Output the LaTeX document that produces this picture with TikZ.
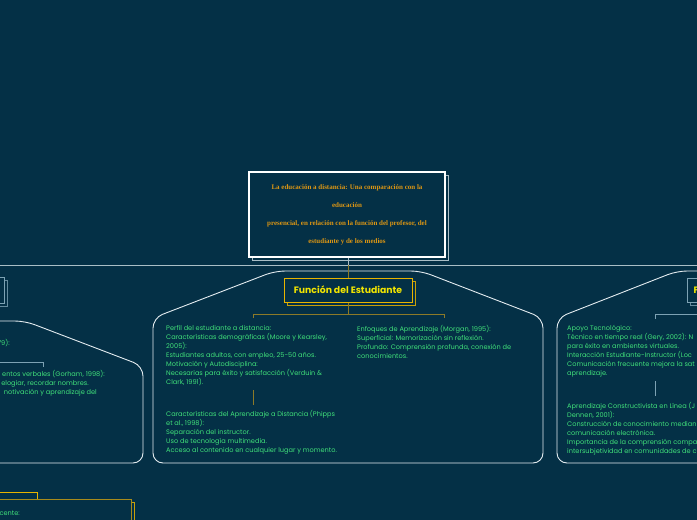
\documentclass[tikz,border=0pt]{standalone}
\usepackage{fontspec}
\newfontfamily\pop{Poppins}
\newfontfamily\tnr{Liberation Serif}
\definecolor{bg}{RGB}{4,48,70}
\definecolor{wline}{RGB}{228,236,240}
\definecolor{bline}{RGB}{125,162,180}
\definecolor{sline}{RGB}{170,190,198}
\definecolor{gold}{RGB}{232,180,0}
\definecolor{goldsh}{RGB}{200,160,10}
\definecolor{olive}{RGB}{140,122,40}
\definecolor{ytext}{RGB}{242,230,0}
\definecolor{gtext}{RGB}{64,224,122}
\definecolor{otext}{RGB}{220,150,20}
\tikzset{
  grp/.style={draw=wline, line width=0.9pt, rounded corners=10pt},
  body/.style={font=\pop\fontsize{6.6}{9}\selectfont, text=gtext, align=left, inner sep=0pt, anchor=north west},
  bodyr/.style={font=\pop\fontsize{6.6}{9}\selectfont, text=gtext, inner sep=0pt, anchor=base east},
  topic/.style={draw=gold, line width=1pt, fill=bg, minimum width=128pt, minimum height=24pt, inner sep=0pt, font=\pop\bfseries\fontsize{9.3}{10}\selectfont, text=ytext},
  topicb/.style={draw=bline, line width=1pt, fill=bg, minimum height=24pt, inner ysep=0pt, font=\pop\bfseries\fontsize{9.3}{10}\selectfont, text=ytext},
  goldshadow/.style={draw=goldsh, line width=1pt, fill=bg},
  blueshadow/.style={draw=bline!80!bg, line width=1pt, fill=bg},
  titlebox/.style={draw=white, line width=1.2pt, fill=bg, minimum width=196pt, minimum height=85pt, inner sep=0pt, align=center, text=otext, font=\tnr\bfseries\fontsize{7}{18}\selectfont},
  oconn/.style={draw=olive, line width=0.8pt},
  bconn/.style={draw=bline, line width=0.8pt},
  hconn/.style={draw=sline, line width=0.8pt}
}
\begin{document}
\begin{tikzpicture}[x=1pt,y=-1pt]
\useasboundingbox (0,0) rectangle (697,520);
\fill[bg] (0,0) rectangle (697,520);
\clip (0,0) rectangle (697,520);

% ---------- title ----------
\draw[draw=sline, line width=1pt, fill=bg] (252,175) rectangle (448,260);
\node[titlebox] (title) at (347,214.5) {La educación a distancia: Una comparación con la\\educación\\presencial, en relación con la función del profesor, del\\estudiante y de los medios};

\coordinate (j0) at (348,265);
\coordinate (eL) at (-5,265);
\coordinate (eR) at (705,265);
\draw[hconn] (title.south -| j0) -- (j0);
\draw[hconn] (eL) -- (eR);

% ---------- central group ----------
\draw[grp] (153,463) -- (153,318) -- (275,271) -- (421,271) -- (543,318) -- (543,463) -- cycle;
\draw[goldshadow] (287,281) rectangle (415,305);
\node[topic] (fe) at (348,290) {Función del Estudiante};
\draw[oconn] (j0) -- (fe.north -| j0);

\coordinate (j1) at (348,314);
\coordinate (cL) at (253,314);
\coordinate (cR) at (444,314);
\coordinate (cLd) at (253,318);
\coordinate (cRd) at (444,318);
\draw[oconn] (fe.south -| j1) -- (j1);
\draw[oconn] (cLd) -- (cL) -- (cR) -- (cRd);

\node[body] (p1) at (166,325) {Perfil del estudiante a distancia:\\Características demográficas (Moore y Kearsley,\\2005):\\Estudiantes adultos, con empleo, 25-50 años.\\Motivación y Autodisciplina:\\Necesarias para éxito y satisfacción (Verduin \&\\Clark, 1991).};
\node[body] (p2) at (166,410) {Características del Aprendizaje a Distancia (Phipps\\et al., 1998):\\Separación del instructor.\\Uso de tecnología multimedia.\\Acceso al contenido en cualquier lugar y momento.};
\coordinate (v1) at (253,390);
\coordinate (v2) at (253,405);
\draw[oconn] (v1) -- (v2);
\node[body] (p3) at (357,325) {Enfoques de Aprendizaje (Morgan, 1995):\\Superficial: Memorización sin reflexión.\\Profundo: Comprensión profunda, conexión de\\conocimientos.};

% ---------- right group ----------
\draw[grp] (720,271) -- (677,271) -- (557,318) -- (557,463) -- (720,463);
\draw[blueshadow] (690,281) rectangle (820,305);
\node[topicb, anchor=west, text width=116pt, inner xsep=6pt, align=left] (fm) at (687,290) {F};
\coordinate (rj) at (720,314);
\coordinate (rc) at (655,314);
\coordinate (rcd) at (655,319);
\draw[bconn] (rj) -- (rc) -- (rcd);
\node[body] (r1) at (567,325) {Apoyo Tecnológico:\\Técnico en tiempo real (Gery, 2002): N\\para éxito en ambientes virtuales.\\Interacción Estudiante-Instructor (Loc\\Comunicación frecuente mejora la sat\\aprendizaje.};
\coordinate (rv1) at (655,381);
\coordinate (rv2) at (655,396);
\draw[bconn] (rv1) -- (rv2);
\node[body] (r2) at (567,402) {Aprendizaje Constructivista en Línea (J\\Dennen, 2001):\\Construcción de conocimiento median\\comunicación electrónica.\\Importancia de la comprensión compa\\intersubjetividad en comunidades de c};

% ---------- left group ----------
\draw[grp] (-20,321) -- (25,321) -- (143,366) -- (143,463) -- (-20,463);
\draw[blueshadow] (-100,280) rectangle (7,306);
\draw[draw=bline, line width=1pt, fill=bg] (-100,277) rectangle (4,303);
\node[bodyr] (l0) at (10,345) {79):};
\coordinate (lj) at (-5,362);
\coordinate (lc) at (43,362);
\coordinate (lcd) at (43,367);
\draw[bconn] (lj) -- (lc) -- (lcd);
\node[bodyr] (l1) at (105,376) {entos verbales (Gorham, 1998):};
\node[bodyr] (l2) at (89,385) {elogiar, recordar nombres.};
\node[bodyr] (l3) at (97,394) {notivación y aprendizaje del};

% ---------- bottom-left ----------
\draw[draw=gold, line width=1pt, fill=bg] (-20,492) rectangle (37,530);
\draw[draw=goldsh, line width=1pt, fill=bg] (-20,502) rectangle (134,540);
\draw[draw=olive!70!gold, line width=1pt, fill=bg] (-20,499) rectangle (131,540);
\node[bodyr] (b1) at (20,515) {ocente:};
\end{tikzpicture}
\end{document}
